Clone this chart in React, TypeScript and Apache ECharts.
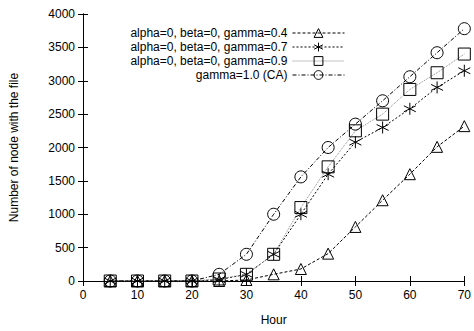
import React, { useEffect, useRef } from "react";
import * as echarts from "echarts";

const hours = [5, 10, 15, 20, 25, 30, 35, 40, 45, 50, 55, 60, 65, 70];
const gamma04 = [0, 0, 0, 0, 0, 15, 100, 180, 410, 810, 1210, 1600, 2010, 2320];
const gamma07 = [0, 0, 0, 0, 20, 100, 400, 1000, 1600, 2080, 2300, 2580, 2900, 3150];
const gamma09 = [0, 0, 0, 0, 30, 100, 400, 1100, 1710, 2250, 2500, 2870, 3120, 3400];
const gamma10 = [0, 0, 0, 0, 100, 400, 1000, 1560, 2000, 2350, 2700, 3060, 3420, 3780];
const seriesNames = [
  "alpha=0, beta=0, gamma=0.4",
  "alpha=0, beta=0, gamma=0.7",
  "alpha=0, beta=0, gamma=0.9",
  "gamma=1.0 (CA)",
];

const FONT = "Liberation Sans";
const STAR = "path://M0,-10L0,10M-8.66,-5L8.66,5M-8.66,5L8.66,-5";

export default function App() {
  const ref = useRef<HTMLDivElement>(null);
  useEffect(() => {
    document.body.style.margin = "0";
    const chart = echarts.init(ref.current!, null, { renderer: "svg" });
    const mk = (name: string, data: number[], symbol: string, size: number, lineColor: string, dash: number[]) => ({
      name,
      type: "line",
      data: hours.map((h, i) => [h, data[i]]),
      symbol,
      symbolSize: size,
      showAllSymbol: true,
      lineStyle: { color: lineColor, width: 1, type: dash },
      itemStyle: { color: "rgba(255,255,255,0)", borderColor: "#000", borderWidth: 1 },
      emphasis: { disabled: true },
    });
    const tickLabel = { fontFamily: FONT, fontSize: 12, color: "#000" };
    chart.setOption({
      animation: false,
      textStyle: { fontFamily: FONT },
      grid: { left: 78, right: 5, top: 14, bottom: 45 },
      legend: {
        orient: "vertical",
        right: 124,
        top: 22,
        align: "right",
        itemWidth: 52,
        itemHeight: 11,
        itemGap: 2,
        lineStyle: { width: 1 },
        itemStyle: { borderWidth: 1 },
        textStyle: { fontFamily: FONT, fontSize: 12, color: "#000" },
        data: seriesNames,
      },
      xAxis: [
        {
          type: "value",
          min: 0,
          max: 70,
          interval: 10,
          name: "Hour",
          nameLocation: "middle",
          nameGap: 33,
          nameTextStyle: { fontFamily: FONT, fontSize: 12, color: "#000" },
          axisLine: { lineStyle: { color: "#000" } },
          axisTick: { inside: true, length: 5, lineStyle: { color: "#000" } },
          axisLabel: { ...tickLabel, margin: 8 },
          splitLine: { show: false },
        },
        {
          type: "value",
          position: "top",
          min: 0,
          max: 70,
          interval: 10,
          axisLine: { show: true, lineStyle: { color: "#000" } },
          axisTick: { inside: true, length: 5, lineStyle: { color: "#000" } },
          axisLabel: { show: false },
          splitLine: { show: false },
        },
      ],
      yAxis: [
        {
          type: "value",
          min: 0,
          max: 4000,
          interval: 500,
          name: "Number of node with the file",
          nameLocation: "middle",
          nameGap: 63,
          nameTextStyle: { fontFamily: FONT, fontSize: 12, color: "#000" },
          axisLine: { show: true, lineStyle: { color: "#000" } },
          axisTick: { show: true, inside: true, length: 5, lineStyle: { color: "#000" } },
          axisLabel: { ...tickLabel, margin: 8, formatter: (v: number) => String(v) },
          splitLine: { show: false },
        },
        {
          type: "value",
          position: "right",
          min: 0,
          max: 4000,
          interval: 500,
          axisLine: { show: true, lineStyle: { color: "#000" } },
          axisTick: { show: true, inside: true, length: 5, lineStyle: { color: "#000" } },
          axisLabel: { show: false },
          splitLine: { show: false },
        },
      ],
      series: [
        mk(seriesNames[0], gamma04, "triangle", 11, "#000", [3, 2]),
        mk(seriesNames[1], gamma07, STAR, 12, "#000", [2, 2]),
        mk(seriesNames[2], gamma09, "rect", 12, "#888", [1, 1]),
        mk(seriesNames[3], gamma10, "circle", 12, "#000", [4, 2, 1, 2]),
      ],
    });
    return () => chart.dispose();
  }, []);
  return <div ref={ref} style={{ width: 474, height: 331 }} />;
}
